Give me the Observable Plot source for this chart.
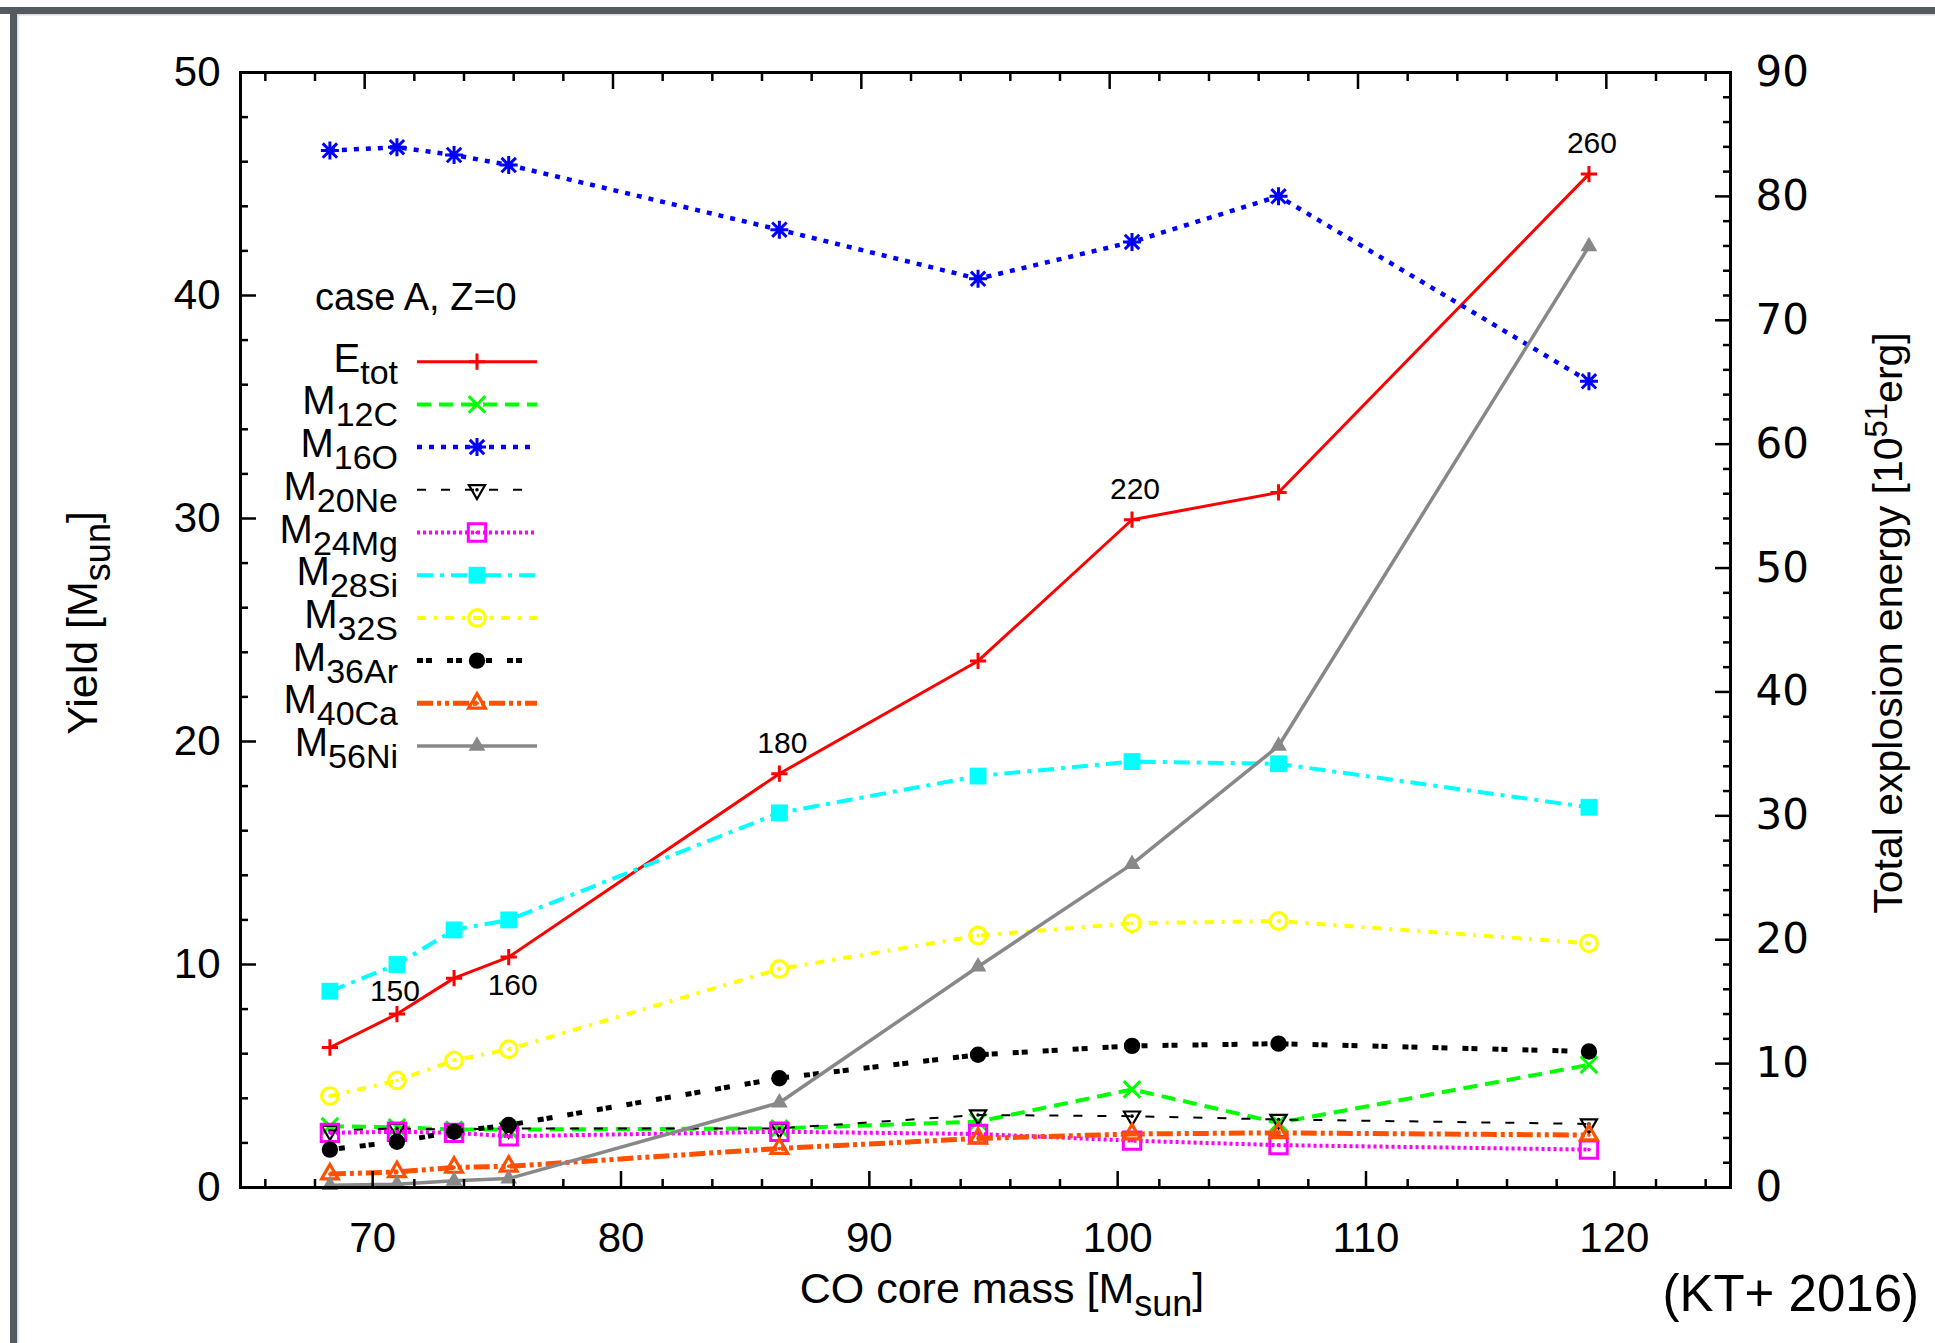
<!DOCTYPE html>
<html>
<head>
<meta charset="utf-8">
<script src="https://cdn.jsdelivr.net/npm/d3@7"></script>
<script src="https://cdn.jsdelivr.net/npm/@observablehq/plot@0.6"></script>
<style>
  html, body { margin:0; padding:0; background:#fff; overflow:hidden; }
  #chart { position:relative; width:1935px; height:1343px; overflow:hidden; background:#fff; }
  #chart svg { display:block; }
</style>
</head>
<body>
<div id="chart"></div>
<script>
// ---------------- data ----------------
const coreMass = [68.6, 71.3, 73.6, 75.8, 86.7, 94.7, 100.9, 106.8, 119.3];   // CO core mass [Msun]
const eTot  = [11.3, 14.0, 16.9, 18.6, 33.4, 42.5, 53.9, 56.1, 81.8];       // total explosion energy [1e51 erg]
const m12C  = [2.75, 2.7, 2.6, 2.6, 2.65, 2.95, 4.4, 2.9, 5.5];
const m16O  = [46.5, 46.65, 46.3, 45.85, 42.95, 40.75, 42.4, 44.45, 36.15];
const m20Ne = [2.55, 2.65, 2.6, 2.65, 2.65, 3.25, 3.2, 3.05, 2.85];
const m24Mg = [2.45, 2.5, 2.45, 2.3, 2.5, 2.4, 2.1, 1.9, 1.7];
const m28Si = [8.8, 10.0, 11.55, 12.0, 16.8, 18.45, 19.1, 19.0, 17.05];
const m32S  = [4.1, 4.8, 5.7, 6.2, 9.8, 11.3, 11.85, 11.95, 10.95];
const m36Ar = [1.7, 2.05, 2.5, 2.8, 4.9, 5.95, 6.35, 6.45, 6.1];
const m40Ca = [0.6, 0.7, 0.9, 0.95, 1.75, 2.2, 2.4, 2.45, 2.35];
const m56Ni = [0.1, 0.15, 0.3, 0.4, 3.8, 9.9, 14.5, 19.8, 42.2];

const legendMain = ["E", "M", "M", "M", "M", "M", "M", "M", "M", "M"];
const legendSub  = ["tot", "12C", "16O", "20Ne", "24Mg", "28Si", "32S", "36Ar", "40Ca", "56Ni"];

const massLabels     = ["150", "160", "180", "220", "260"];   // initial masses written on the E_tot curve
const massLabelPoint = [1, 3, 4, 6, 8];

const xTicks = [70, 80, 90, 100, 110, 120];
const yTicks = [0, 10, 20, 30, 40, 50];
const eTicks = [0, 10, 20, 30, 40, 50, 60, 70, 80, 90];

// ---------------- scales / layout ----------------
const X0 = 65, X1 = 125, Y1 = 50, E1 = 90;
const toLeft = e => e * Y1 / E1;
const W = 1935, H = 1343;
const FL = 240, FR = 1730, FT = 72, FB = 1187;
const FONT = "'Liberation Sans', Arial, Helvetica, sans-serif";

// gnuplot-like "*" marker: plus + cross
const star8 = {
  draw(context, size) {
    const a = Math.sqrt(size / Math.PI);
    const d = a * 0.8;
    context.moveTo(-a, 0); context.lineTo(a, 0);
    context.moveTo(0, -a); context.lineTo(0, a);
    context.moveTo(-d, -d); context.lineTo(d, d);
    context.moveTo(-d, d); context.lineTo(d, -d);
  }
};

// styles (one per series, legend order)
const looks = [
  {color:"#ff0000", lw:3,   dash:null,            symbol:d3.symbolPlus,     r:5.3, filled:false, msw:3},
  {color:"#00ff00", lw:4,   dash:"14,8",          symbol:d3.symbolTimes,    r:7.6, filled:false, msw:3},
  {color:"#0000ff", lw:4.5, dash:"5,7",           symbol:star8,             r:9,   filled:false, msw:3},
  {color:"#000000", lw:2,   dash:"9,15",          symbol:d3.symbolTriangle, r:6,   filled:false, msw:2.2, rot:180, center:true},
  {color:"#ff00ff", lw:4,   dash:"3,3",           symbol:d3.symbolSquare,   r:9.8, filled:false, msw:3, center:true},
  {color:"#00ffff", lw:4,   dash:"16,7,4,7",      symbol:d3.symbolSquare,   r:9.5, filled:true},
  {color:"#ffff00", lw:4,   dash:"9,8,3,8",       symbol:d3.symbolCircle,   r:8.3, filled:false, msw:3.2, center:true},
  {color:"#000000", lw:5,   dash:"6,3,6,15",      symbol:d3.symbolCircle,   r:8.2, filled:true},
  {color:"#ff5000", lw:5,   dash:"16,4,4,4,4,4",  symbol:d3.symbolTriangle, r:6.2, filled:false, msw:3.2, center:true},
  {color:"#888888", lw:3.5, dash:null,            symbol:d3.symbolTriangle, r:6.2, filled:true}
];

const seriesValues = [eTot.map(toLeft), m12C, m16O, m20Ne, m24Mg, m28Si, m32S, m36Ar, m40Ca, m56Ni];

const marks = [];
seriesValues.forEach((vals, k) => {
  const L = looks[k];
  const data = coreMass.map((x, i) => ({x, y: vals[i]}));
  marks.push(Plot.line(data, {x:"x", y:"y", stroke:L.color, strokeWidth:L.lw,
    strokeDasharray: L.dash || undefined, strokeLinecap:"butt", strokeLinejoin:"miter"}));
  marks.push(Plot.dot(data, {x:"x", y:"y", symbol:L.symbol, r:L.r,
    fill: L.filled ? L.color : "none", stroke: L.filled ? "none" : L.color,
    strokeWidth: L.msw || 0, rotate: L.rot || 0}));
  if (L.center) marks.push(Plot.dot(data, {x:"x", y:"y", r:1.8, fill:L.color, stroke:"none"}));
});

// mass labels on E_tot curve
const labelData = massLabels.map((t, j) => ({t, x: coreMass[massLabelPoint[j]], y: toLeft(eTot[massLabelPoint[j]])}));
const labelOpts = {x:"x", y:"y", text:"t", lineAnchor:"bottom", fontSize:30, fill:"black", fontFamily:FONT};
marks.push(Plot.text(labelData.filter(d => d.t === "150"), {...labelOpts, dx:-2, dy:-13}));
marks.push(Plot.text(labelData.filter(d => d.t === "160"), {...labelOpts, dx:4, dy:38}));
marks.push(Plot.text(labelData.filter(d => d.t !== "150" && d.t !== "160"), {...labelOpts, dx:3, dy:-21}));

// axes
const xMinor = d3.range(66, 125, 2).filter(v => v % 10 !== 0);
const yMinor = d3.range(2, 50, 2).filter(v => v % 10 !== 0);
const eMinor = d3.range(2, 90, 2).filter(v => v % 10 !== 0);
const none = () => "";
marks.push(
  Plot.axisX({anchor:"bottom", ticks:xTicks, tickSize:-16, tickPadding:51, tickFormat:"d", fontSize:42, fontFamily:FONT, strokeWidth:2.5, label:null, dx:8}),
  Plot.axisX({anchor:"bottom", ticks:xMinor, tickSize:-8, tickFormat:none, strokeWidth:2.5, label:null}),
  Plot.axisX({anchor:"top", ticks:xTicks, tickSize:-16, tickFormat:none, strokeWidth:2.5, label:null}),
  Plot.axisX({anchor:"top", ticks:xMinor, tickSize:-8, tickFormat:none, strokeWidth:2.5, label:null}),
  Plot.axisY({anchor:"left", ticks:yTicks, tickSize:-16, tickPadding:36, tickFormat:"d", fontSize:42, fontFamily:FONT, strokeWidth:2.5, label:null}),
  Plot.axisY({anchor:"left", ticks:yMinor, tickSize:-8, tickFormat:none, strokeWidth:2.5, label:null}),
  Plot.axisY({anchor:"right", ticks:eTicks.map(toLeft), tickSize:-16, tickPadding:41,
    tickFormat: d => String(Math.round(d * E1 / Y1)), fontSize:42, fontFamily:"'DejaVu Sans', sans-serif", strokeWidth:2.5, label:null}),
  Plot.axisY({anchor:"right", ticks:eMinor.map(toLeft), tickSize:-8, tickFormat:none, strokeWidth:2.5, label:null}),
  Plot.frame({stroke:"black", strokeWidth:3})
);

const chart = Plot.plot({
  width: W, height: H,
  marginLeft: FL, marginRight: W - FR, marginTop: FT, marginBottom: H - FB,
  x: {domain:[X0, X1]},
  y: {domain:[0, Y1]},
  style: {fontFamily: FONT, fontSize:"42px", color:"black", background:"white", overflow:"visible"},
  marks
});
document.getElementById("chart").appendChild(chart);

// ---------------- decorations: border, titles, legend ----------------
const svg = d3.select(chart);
const border = "#555a61";
svg.append("rect").attr("x", 0).attr("y", 7).attr("width", W).attr("height", 7).attr("fill", border);
svg.append("rect").attr("x", 10).attr("y", 7).attr("width", 7).attr("height", H).attr("fill", border);
svg.append("rect").attr("x", 17).attr("y", 14).attr("width", W).attr("height", 1.5).attr("fill", "#d8dadc");
svg.append("rect").attr("x", 17).attr("y", 14).attr("width", 1.5).attr("height", H).attr("fill", "#d8dadc");

function subText(g, main, sub, {size, subSize, shift, anchor = "middle", supMode = false, tail = ""}) {
  const t = g.append("text").attr("text-anchor", anchor).attr("font-family", FONT)
    .attr("font-size", size).attr("fill", "black");
  t.append("tspan").text(main);
  t.append("tspan").attr("font-size", subSize).attr("dy", supMode ? -shift : shift).text(sub);
  if (tail) t.append("tspan").attr("dy", supMode ? shift : -shift).text(tail);
  return t;
}

// axis titles
subText(svg.append("g").attr("transform", "translate(97,623) rotate(-90)"),
  "Yield [M", "sun", {size:43, subSize:36, shift:13, tail:"]"});
subText(svg.append("g").attr("transform", "translate(1002,1303)"),
  "CO core mass [M", "sun", {size:43, subSize:36, shift:13, tail:"]"});
subText(svg.append("g").attr("transform", "translate(1902,623) rotate(-90)"),
  "Total explosion energy [10", "51", {size:41, subSize:31, shift:15, supMode:true, tail:"erg]"});

svg.append("text").attr("x", 1919).attr("y", 1311).attr("text-anchor", "end")
  .attr("font-family", FONT).attr("font-size", 51).attr("fill", "black").text("(KT+ 2016)");

// legend
svg.append("text").attr("x", 315).attr("y", 310).attr("text-anchor", "start").attr("font-family", FONT)
  .attr("font-size", 38).attr("fill", "black").text("case A, Z=0");

const leg = svg.append("g");
looks.forEach((L, k) => {
  const y = 361.7 + 42.7 * k;
  subText(leg.append("g").attr("transform", `translate(398,${y + 10})`),
    legendMain[k], legendSub[k], {size:40, subSize:34, shift:12, anchor:"end"});
  leg.append("line").attr("x1", 417).attr("x2", 537).attr("y1", y).attr("y2", y)
    .attr("stroke", L.color).attr("stroke-width", L.lw)
    .attr("stroke-dasharray", L.dash || null);
  const path = d3.symbol().type(L.symbol).size(Math.PI * L.r * L.r)();
  leg.append("path").attr("d", path)
    .attr("transform", `translate(477,${y}) rotate(${L.rot || 0})`)
    .attr("fill", L.filled ? L.color : "none")
    .attr("stroke", L.filled ? "none" : L.color)
    .attr("stroke-width", L.msw || 0);
  if (L.center) leg.append("circle").attr("cx", 477).attr("cy", y).attr("r", 1.8).attr("fill", L.color);
});
</script>
</body>
</html>
